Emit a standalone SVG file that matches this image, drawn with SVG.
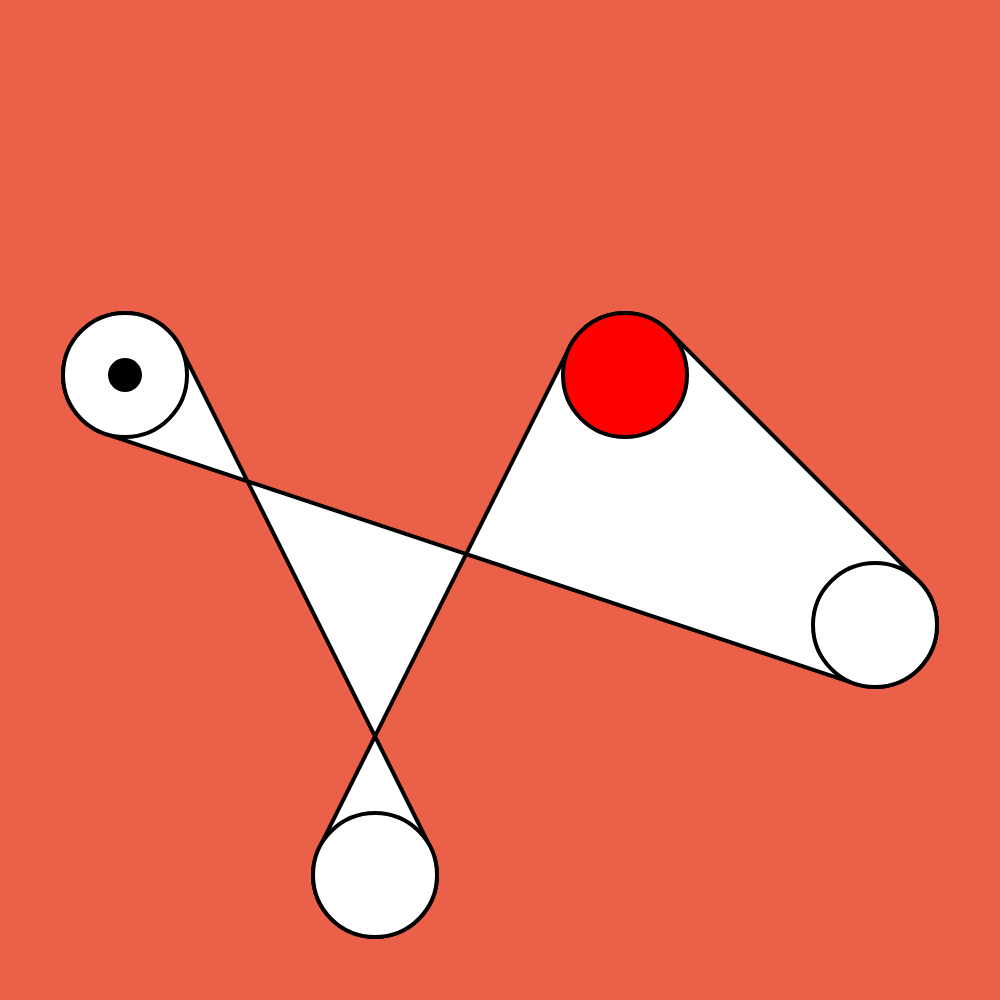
<svg xmlns="http://www.w3.org/2000/svg" width="1000" height="1000" viewBox="0 0 1000 1000">
<style>
.belt{fill:#ffffff;stroke:#000;stroke-width:4;stroke-linejoin:round;fill-rule:nonzero}
.pulley{fill:#ffffff;stroke:#000;stroke-width:4}
.drive{fill:#ff0000;stroke:#000;stroke-width:4}
</style>
<rect width="1000" height="1000" fill="#EB6049"/>
<g id="connectors">
<path class="belt" d="M180.45,347.27 L430.45,847.27 A62,62 0 1 1 319.55,847.27 L569.55,347.27 A62,62 0 0 1 668.84,331.16 L918.84,581.16 A62,62 0 0 1 855.39,683.82 L105.39,433.82 A62,62 0 1 1 180.45,347.27 Z"/>
</g>
<g id="pulley-a">
<circle class="pulley" cx="125" cy="375" r="62"/>
<circle cx="125" cy="375" r="17" fill="#000"/>
</g>
<g id="pulley-b">
<circle class="drive" cx="625" cy="375" r="62"/>
</g>
<g id="pulley-c">
<circle class="pulley" cx="875" cy="625" r="62"/>
</g>
<g id="pulley-d">
<circle class="pulley" cx="375" cy="875" r="62"/>
</g>
</svg>
